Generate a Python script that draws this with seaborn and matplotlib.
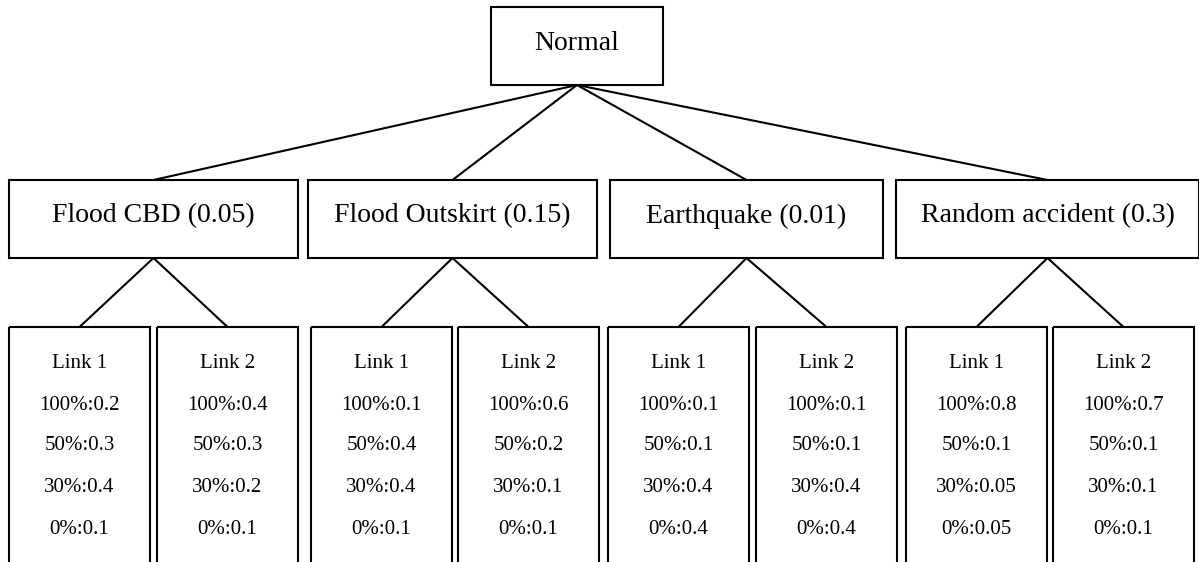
import seaborn as sns
import pandas as pd
from matplotlib import pyplot as plt
from matplotlib.patches import Rectangle
sns.set_theme(style="white")
plt.rcParams['font.family'] = ['Liberation Serif', 'DejaVu Serif']
plt.rcParams['text.color'] = 'black'

# data
root_label = "Normal"
scenarios = ["Flood CBD", "Flood Outskirt", "Earthquake", "Random accident"]
scenario_probs = [0.05, 0.15, 0.01, 0.3]
links = ["Link 1", "Link 2"]
capacity_levels = ["100%", "50%", "30%", "0%"]
link1_probs = [[0.2, 0.3, 0.4, 0.1],
               [0.1, 0.4, 0.4, 0.1],
               [0.1, 0.1, 0.4, 0.4],
               [0.8, 0.1, 0.05, 0.05]]
link2_probs = [[0.4, 0.3, 0.2, 0.1],
               [0.6, 0.2, 0.1, 0.1],
               [0.1, 0.1, 0.4, 0.4],
               [0.7, 0.1, 0.1, 0.1]]

# layout (pixels, y downwards)
W, H = 1199, 562
root_box = (491, 7, 172, 78)
mid_left = [9, 308, 610, 896]
mid_right = [298, 597, 883, 1199]
mid_top, mid_bot = 180, 258
leaf_left = [[9, 157], [311, 458], [608, 756], [906, 1053]]
leaf_w = 141
leaf_top = 327
leaf_text_y = [363, 405, 446, 487, 529]
lw = 1.5


def box(ax, x, y, w, h):
    ax.add_patch(Rectangle((x, y), w, h, fill=False, edgecolor="black", lw=lw))


fig = plt.figure(figsize=(W / 100, H / 100), dpi=100)
ax = fig.add_axes([0, 0, 1, 1])

rx, ry, rw, rh = root_box
root_cx, root_bot = rx + rw / 2, ry + rh
box(ax, *root_box)
ax.text(root_cx, 43, root_label, ha="center", va="center", fontsize=20)

rows = []
for i, (name, p) in enumerate(zip(scenarios, scenario_probs)):
    l, r = mid_left[i], mid_right[i]
    cx = (l + r) / 2
    box(ax, l, mid_top, r - l, mid_bot - mid_top)
    ax.text(cx, 216, f"{name} ({p:g})", ha="center", va="center", fontsize=20)
    rows += [(f"r{i}", root_cx, root_bot), (f"r{i}", cx, mid_top)]
    for j, probs in enumerate([link1_probs[i], link2_probs[i]]):
        lx = leaf_left[i][j]
        lcx = lx + leaf_w / 2
        box(ax, lx, leaf_top, leaf_w, 400)
        rows += [(f"m{i}{j}", cx, mid_bot), (f"m{i}{j}", lcx, leaf_top)]
        lines = [links[j]] + [f"{c}:{v:g}" for c, v in zip(capacity_levels, probs)]
        for ty, t in zip(leaf_text_y, lines):
            ax.text(lcx, ty, t, ha="center", va="center", fontsize=15)

edges = pd.DataFrame(rows, columns=["edge", "x", "y"])
sns.lineplot(data=edges, x="x", y="y", units="edge", estimator=None,
             sort=False, color="black", lw=lw, ax=ax, legend=False)
ax.set_xlim(0, W)
ax.set_ylim(H, 0)
ax.axis("off")

fig.savefig("out.png", dpi=100, facecolor="white")
